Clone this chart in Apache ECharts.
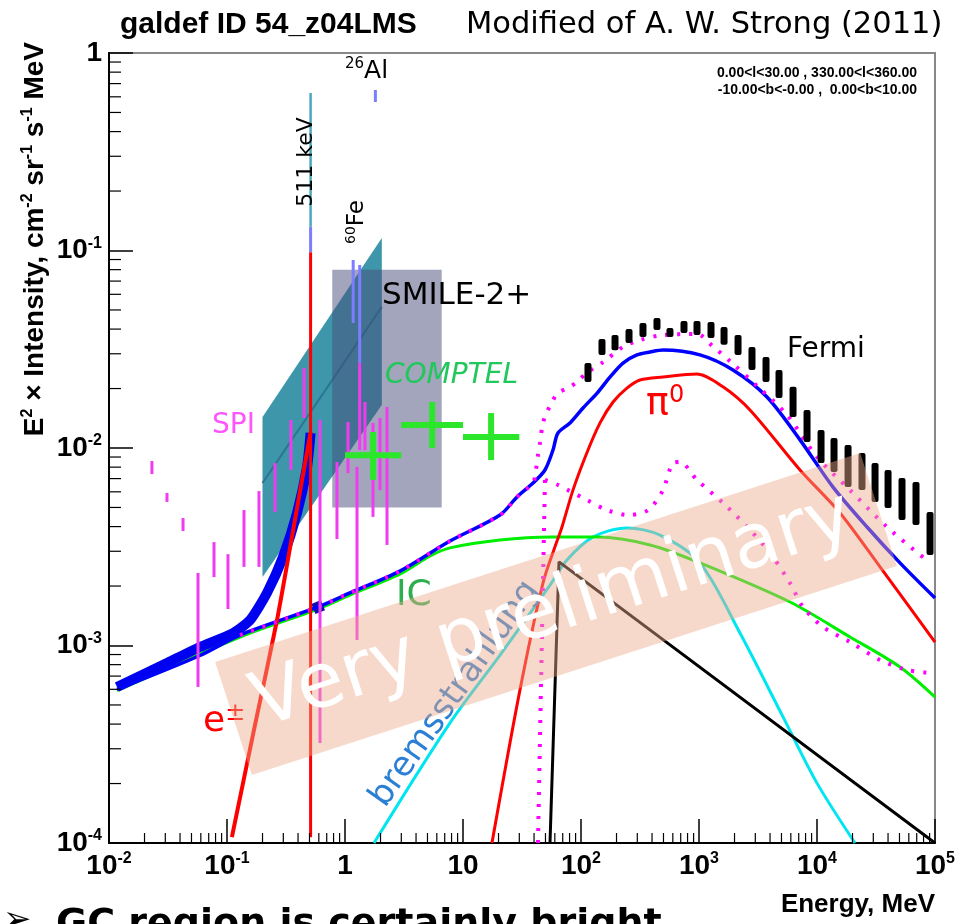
<!DOCTYPE html>
<html>
<head>
<meta charset="utf-8">
<script src="https://cdn.jsdelivr.net/npm/echarts@6/dist/echarts.min.js"></script>
<style>
html, body { margin: 0; padding: 0; background: #fff; }
#chart { width: 975px; height: 924px; }
</style>
</head>
<body>
<div id="chart"></div>
<script>
// ---- axis tick labels (base, exponent) ----
const xTickLabels = [['10', '-2'], ['10', '-1'], ['1', ''], ['10', ''], ['10', '2'], ['10', '3'], ['10', '4'], ['10', '5']];
const xTickExps = [-2, -1, 0, 1, 2, 3, 4, 5];
const yTickLabels = [['10', '-4'], ['10', '-3'], ['10', '-2'], ['10', '-1'], ['1', '']];
const yTickExps = [-4, -3, -2, -1, 0];

// ---- model components: [energy MeV, E^2 x intensity] ----
const psContData = [[0.0117, 6.17e-4], [0.031, 8.15e-4], [0.059, 9.82e-4], [0.1125, 1.156e-3], [0.157, 1.346e-3],
  [0.218, 1.845e-3], [0.2985, 2.81e-3], [0.392, 4.69e-3], [0.477, 8.02e-3], [0.511, 0.01191]];
const psStepData = [[0.54, 1.53e-3], [0.65, 1.60e-3]];
const totalData = [[0.0117, 6.0e-4], [0.059, 8.9e-4], [0.129, 1.13e-3], [0.59, 1.567e-3], [1.10, 1.845e-3],
  [2.92, 2.38e-3], [7.76, 3.38e-3], [20.6, 4.58e-3], [28.7, 5.65e-3], [39.2, 6.65e-3], [49.5, 7.74e-3],
  [57.9, 9.77e-3], [63.8, 0.01191], [80.7, 0.01339], [104, 0.01595], [137, 0.01897], [176, 0.02286],
  [227, 0.02692], [298, 0.02958], [385, 0.03062], [495, 0.03133], [1019, 0.0296], [1941, 0.0248],
  [3767, 0.01811], [7178, 0.01099], [13670, 6.34e-3], [26550, 3.98e-3], [50470, 2.62e-3], [100000, 1.74e-3]];
const piData = [[17.6, 1e-4], [30.4, 5.96e-4], [47.6, 2.07e-3], [60.2, 3.16e-3], [69.0, 3.98e-3], [85.5, 6.12e-3],
  [112, 9.44e-3], [145, 0.0134], [187, 0.0171], [245, 0.0201], [316, 0.0221], [495, 0.0229], [962, 0.0237],
  [1597, 0.0204], [2704, 0.01557], [7178, 7.74e-3], [15670, 4.69e-3], [34200, 2.50e-3], [100000, 1.04e-3]];
const icData = [[0.0117, 5.9e-4], [0.129, 1.104e-3], [0.59, 1.53e-3], [1.10, 1.80e-3], [2.92, 2.30e-3],
  [5.27, 2.84e-3], [7.76, 3.12e-3], [20.6, 3.42e-3], [56.8, 3.54e-3], [137, 3.54e-3], [385, 3.23e-3],
  [1019, 2.62e-3], [5904, 1.66e-3], [19050, 1.104e-3], [50470, 7.78e-4], [100000, 5.48e-4]];
const bremsData = [[1.76, 1e-4], [7.76, 4.06e-4], [20.6, 8.95e-4], [54.6, 2.02e-3], [76.0, 2.71e-3], [126, 3.54e-3],
  [245, 3.94e-3], [467, 3.62e-3], [1019, 2.62e-3], [2225, 1.156e-3], [5152, 4.35e-4], [10000, 2.01e-4], [20990, 1e-4]];
const hardData = [[54.6, 1e-4], [65.1, 2.65e-3], [100000, 1e-4]];
const ePmData = [[0.110, 1.07e-4], [0.1726, 3.95e-4], [0.2655, 1.346e-3], [0.370, 4.07e-3], [0.511, 0.01205]];
const modelUpper = [[0.129, 1.13e-3], [0.59, 1.567e-3], [1.10, 1.845e-3], [2.92, 2.38e-3], [7.76, 3.38e-3],
  [20.6, 4.58e-3], [28.7, 5.65e-3], [39.2, 6.65e-3], [40.7, 7.13e-3], [43.2, 9.22e-3], [44.9, 0.0106],
  [47.6, 0.0134], [51.5, 0.0152], [56.8, 0.0171], [63.8, 0.0190], [77.6, 0.0201], [92.5, 0.0216], [112, 0.0240],
  [154, 0.0272], [227, 0.0325], [316, 0.0352], [495, 0.0373], [962, 0.0378], [1288, 0.0330], [1832, 0.0275],
  [3162, 0.0204], [5571, 0.0147], [10000, 9.0e-3], [19050, 6.12e-3], [39180, 3.98e-3], [90800, 2.62e-3]];
const modelLowerRise = [[43.2, 1e-4], [49.5, 6.89e-3]];
const modelLower = [[49.5, 6.89e-3], [63.8, 6.50e-3], [77.6, 6.12e-3], [112, 5.46e-3], [166, 4.85e-3], [250, 4.58e-3],
  [370, 4.85e-3], [495, 6.12e-3], [603, 8.39e-3], [690, 8.49e-3], [962, 6.89e-3], [1597, 5.27e-3], [2704, 3.85e-3],
  [3999, 2.94e-3], [5904, 2.07e-3], [7609, 1.567e-3], [11240, 1.241e-3], [19050, 1.042e-3], [34200, 8.45e-4],
  [57900, 7.52e-4], [90800, 7.26e-4]];

// ---- gamma-ray lines ----
const line511Red = [[0.511, 0.098], [0.511, 1.07e-4]];
const line511Violet = [[0.511, 0.132], [0.511, 0.098]];
const line511Teal = [[0.511, 0.627], [0.511, 0.132]];
const fe60LineA = [[1.173, 0.0895], [1.173, 0.0430]];
const fe60LineB = [[1.332, 0.0845], [1.332, 0.0269]];
const al26Line = [[1.809, 0.650], [1.809, 0.565]];

// ---- measurements ----
// SPI: [energy, low, high]
const spiData = [[0.0231, 7.38e-3, 8.59e-3], [0.0310, 5.33e-3, 5.92e-3], [0.0424, 3.80e-3, 4.42e-3],
  [0.0568, 6.17e-4, 2.33e-3], [0.0776, 2.22e-3, 3.34e-3], [0.1019, 1.53e-3, 2.90e-3], [0.1393, 2.50e-3, 4.85e-3],
  [0.1866, 2.50e-3, 6.05e-3], [0.2553, 4.74e-3, 8.39e-3], [0.348, 7.74e-3, 0.01387], [0.450, 0.01419, 0.0254],
  [0.614, 3.21e-4, 0.01387], [0.855, 3.46e-3, 8.49e-3], [1.06, 7.46e-3, 0.01355], [1.264, 1.067e-3, 8.02e-3],
  [1.332, 9.77e-3, 0.0269], [1.476, 9.77e-3, 0.0171], [1.726, 4.48e-3, 0.01339], [1.98, 6.12e-3, 0.01419],
  [2.27, 3.23e-3, 0.01614]];
// COMPTEL: [E low, E high, E centre, value, low, high]
const comptelData = [[1, 3, 1.73, 9.2e-3, 6.9e-3, 0.01205], [3, 10, 5.48, 0.01306, 0.0100, 0.0171],
  [10, 30, 17.3, 0.01137, 8.69e-3, 0.01503]];
// Fermi: [energy, low, high]
const fermiData = [[114.6, 0.0216, 0.0269], [150.6, 0.0296, 0.0356], [194.2, 0.0313, 0.0373], [255.2, 0.0340, 0.0401],
  [335.1, 0.0365, 0.0430], [440.4, 0.0396, 0.0455], [567.5, 0.0365, 0.0405], [746, 0.0382, 0.0440],
  [961.6, 0.0373, 0.0440], [1264, 0.0361, 0.0435], [1630, 0.0333, 0.0410], [2142, 0.0296, 0.0373],
  [2812, 0.0248, 0.0325], [3698, 0.0216, 0.0289], [4766, 0.0179, 0.0248], [6266, 0.01435, 0.0204],
  [8232, 0.01072, 0.01557], [10820, 8.39e-3, 0.01233], [13940, 7.55e-3, 0.01124], [18330, 6.34e-3, 0.01035],
  [24060, 6.12e-3, 9.44e-3], [31040, 5.33e-3, 8.39e-3], [40000, 4.97e-3, 7.74e-3], [52530, 4.32e-3, 7.05e-3],
  [69030, 4.07e-3, 6.73e-3], [90770, 2.87e-3, 4.74e-3]];

// ---- sensitivity regions ----
const spiBandCorners = [[0.2, 2.22e-3], [0.2, 0.01435], [2.05, 0.1157], [2.05, 0.01651]];
const spiBandMid = [[0.2, 6.65e-3], [2.05, 0.0518]];
const smileBox = [[0.78, 5.0e-3], [6.6, 0.08]];

// minor tick positions (2..9 within each decade)
const xMinor = [];
for (let d = -2; d < 5; d++) for (let k = 2; k <= 9; k++) xMinor.push(k * Math.pow(10, d));
const yMinor = [];
for (let d = -4; d < 0; d++) for (let k = 2; k <= 9; k++) yMinor.push(k * Math.pow(10, d));

const FONT = 'Liberation Sans, Arial, sans-serif';
const HAND = 'DejaVu Sans, sans-serif';

const labelRich = {
  b: { fontFamily: FONT, fontWeight: 'bold', fontSize: 28, lineHeight: 30, color: '#000' },
  s: { fontFamily: FONT, fontWeight: 'bold', fontSize: 16, lineHeight: 16, verticalAlign: 'top', color: '#000' }
};
function tickText(labels, exps, v) {
  const e = Math.round(Math.log10(v));
  const i = exps.indexOf(e);
  if (i < 0) return '';
  const l = labels[i];
  return l[1] ? '{b|' + l[0] + '}{s|' + l[1] + '}' : '{b|' + l[0] + '}';
}

function curve(name, data, color, width, extra) {
  return Object.assign({
    name: name, type: 'line', data: data, symbol: 'none', showSymbol: false, smooth: 0.3,
    silent: true, z: 3, clip: true,
    lineStyle: { color: color, width: width, cap: 'butt' }
  }, extra || {});
}

function bars(name, data, color, width, z) {
  return {
    name: name, type: 'custom', data: data, z: z, silent: true,
    encode: { x: 0, y: [1, 2] },
    renderItem: function (params, api) {
      const top = api.coord([api.value(0), api.value(2)]);
      const bot = api.coord([api.value(0), api.value(1)]);
      return {
        type: 'rect',
        shape: { x: top[0] - width / 2, y: top[1], width: width, height: bot[1] - top[1], r: width > 4 ? 2 : 0 },
        style: { fill: color }
      };
    }
  };
}

const dotted = function (z) {
  return { z: z, lineStyle: { color: '#ff00ff', width: 4, type: [3, 9], cap: 'butt' } };
};

const series = [
  // sensitivity regions
  {
    type: 'custom', name: 'SPI band', data: spiBandCorners, z: 1, silent: true,
    renderItem: function (params, api) {
      if (params.dataIndex !== 0) return null;
      const a = api.coord(spiBandMid[0]), b = api.coord(spiBandMid[1]);
      return {
        type: 'group', children: [
          { type: 'polygon', shape: { points: spiBandCorners.map(function (p) { return api.coord(p); }) }, style: { fill: '#3e96ab' } },
          { type: 'line', shape: { x1: a[0], y1: a[1], x2: b[0], y2: b[1] }, style: { stroke: '#2b7590', lineWidth: 2 } }
        ]
      };
    }
  },
  {
    type: 'custom', name: 'SMILE-2+', data: smileBox, z: 1.5, silent: true,
    renderItem: function (params, api) {
      if (params.dataIndex !== 0) return null;
      const p0 = api.coord(smileBox[0]), p1 = api.coord(smileBox[1]);
      return {
        type: 'rect',
        shape: { x: p0[0], y: p1[1], width: p1[0] - p0[0], height: p0[1] - p1[1] },
        style: { fill: 'rgba(70,75,120,0.5)' }
      };
    }
  },
  // axis minor ticks
  {
    type: 'custom', name: 'x minor', data: xMinor.map(function (v) { return [v, 1e-4]; }), z: 6, silent: true,
    renderItem: function (params, api) {
      const p = api.coord([api.value(0), 1e-4]);
      return { type: 'line', shape: { x1: p[0], y1: p[1], x2: p[0], y2: p[1] - 10 }, style: { stroke: '#000', lineWidth: 1.2 } };
    }
  },
  {
    type: 'custom', name: 'y minor', data: yMinor.map(function (v) { return [0.01, v]; }), z: 6, silent: true,
    renderItem: function (params, api) {
      const p = api.coord([0.01, api.value(1)]);
      return { type: 'line', shape: { x1: p[0], y1: p[1], x2: p[0] + 12, y2: p[1] }, style: { stroke: '#000', lineWidth: 1.2 } };
    }
  },
  // model curves
  curve('bremsstrahlung', bremsData, '#00e6f0', 3),
  curve('hard', hardData, '#000', 3, { smooth: false }),
  curve('IC', icData, '#00ee00', 3),
  curve('total', totalData, '#0000ff', 3.5, { z: 3.2 }),
  curve('positronium', psContData, '#0000f0', 10, { z: 3.1, smooth: 0.2 }),
  curve('positronium step', psStepData, '#1010b0', 11, { z: 3.15, smooth: false }),
  curve('pi0', piData, '#ff0000', 3, { z: 3.3 }),
  curve('e+-', ePmData, '#ff0000', 4, { z: 3.4, smooth: 0.2 }),
  curve('model', modelUpper, '#ff00ff', 4, dotted(3.5)),
  curve('model rise', modelLowerRise, '#ff00ff', 4, Object.assign({ smooth: false }, dotted(3.5))),
  curve('model low', modelLower, '#ff00ff', 4, dotted(3.5)),
  // lines
  curve('511 red', line511Red, '#ff0000', 3, { smooth: false, z: 3.6 }),
  curve('511 violet', line511Violet, '#7d7dff', 3, { smooth: false, z: 3.6 }),
  curve('511 teal', line511Teal, '#4aa8bc', 2.5, { smooth: false, z: 3.6 }),
  curve('60Fe a', fe60LineA, '#7d7dff', 3, { smooth: false, z: 3.6 }),
  curve('60Fe b', fe60LineB, '#7d7dff', 3, { smooth: false, z: 3.6 }),
  curve('26Al', al26Line, '#7d7dff', 3, { smooth: false, z: 3.6 }),
  // data points
  bars('SPI', spiData, '#f03cf0', 3, 4),
  {
    type: 'custom', name: 'COMPTEL', data: comptelData, z: 4.5, silent: true,
    renderItem: function (params, api) {
      const h0 = api.coord([api.value(0), api.value(3)]);
      const h1 = api.coord([api.value(1), api.value(3)]);
      const v0 = api.coord([api.value(2), api.value(5)]);
      const v1 = api.coord([api.value(2), api.value(4)]);
      const st = { stroke: '#2be62b', lineWidth: 6 };
      return {
        type: 'group', children: [
          { type: 'line', shape: { x1: h0[0], y1: h0[1], x2: h1[0], y2: h1[1] }, style: st },
          { type: 'line', shape: { x1: v0[0], y1: v0[1], x2: v1[0], y2: v1[1] }, style: st }
        ]
      };
    }
  },
  bars('Fermi', fermiData, '#000', 7, 4.6)
];

function txt(x, y, text, font, fill, extra) {
  return Object.assign({
    type: 'text', x: x, y: y, z: 10, silent: true,
    style: Object.assign({ text: text, fill: fill || '#000', align: 'left', verticalAlign: 'middle' }, font)
  }, extra || {});
}

const graphics = [
  txt(120, 25, 'galdef ID 54_z04LMS', { fontFamily: FONT, fontWeight: 'bold', fontSize: 30 }),
  txt(466, 25, 'Modified of A. W. Strong (2011)', { fontFamily: HAND, fontSize: 30.5 }),
  txt(917, 73, '0.00<l<30.00 , 330.00<l<360.00', { fontFamily: FONT, fontWeight: 'bold', fontSize: 14, align: 'right' }),
  txt(917, 90, '-10.00<b<-0.00 ,  0.00<b<10.00', { fontFamily: FONT, fontWeight: 'bold', fontSize: 14, align: 'right' }),
  txt(935, 905, 'Energy, MeV', { fontFamily: FONT, fontWeight: 'bold', fontSize: 26, align: 'right' }),
  // vertical axis title, ending at the top of the axis
  {
    type: 'text', x: 35, y: 42, rotation: Math.PI / 2, z: 10, silent: true,
    style: {
      text: '{t|E}{u|2}{t| × Intensity, cm}{u|-2}{t| sr}{u|-1}{t| s}{u|-1}{t| MeV}',
      align: 'right', verticalAlign: 'middle',
      rich: {
        t: { fontFamily: FONT, fontWeight: 'bold', fontSize: 28, lineHeight: 30, fill: '#000' },
        u: { fontFamily: FONT, fontWeight: 'bold', fontSize: 16, lineHeight: 16, verticalAlign: 'top', fill: '#000' }
      }
    }
  },
  txt(3, 921, '➢', { fontFamily: HAND, fontSize: 34 }),
  txt(56, 906, 'GC region is certainly bright', { fontFamily: HAND, fontWeight: 'bold', fontSize: 38, verticalAlign: 'top' }),
  // line and component annotations
  {
    type: 'text', x: 345, y: 71, z: 10, silent: true,
    style: {
      text: '{s|26}{n|Al}', align: 'left', verticalAlign: 'middle',
      rich: {
        s: { fontFamily: HAND, fontSize: 15, lineHeight: 15, verticalAlign: 'top', fill: '#000' },
        n: { fontFamily: HAND, fontSize: 25, lineHeight: 28, fill: '#000' }
      }
    }
  },
  txt(306, 162, '511 keV', { fontFamily: HAND, fontSize: 22, align: 'center' }, '#000', { rotation: Math.PI / 2 }),
  {
    type: 'text', x: 357, y: 222, rotation: Math.PI / 2, z: 10, silent: true,
    style: {
      text: '{s|60}{n|Fe}', align: 'center', verticalAlign: 'middle',
      rich: {
        s: { fontFamily: HAND, fontSize: 14, lineHeight: 14, verticalAlign: 'top', fill: '#000' },
        n: { fontFamily: HAND, fontSize: 23, lineHeight: 26, fill: '#000' }
      }
    }
  },
  txt(212, 426, 'SPI', { fontFamily: HAND, fontSize: 28 }, '#ff55ff'),
  txt(382, 296, 'SMILE-2+', { fontFamily: HAND, fontSize: 31 }, '#000'),
  txt(385, 376, 'COMPTEL', { fontFamily: HAND, fontSize: 28, fontStyle: 'italic' }, '#1ec85a'),
  txt(787, 350, 'Fermi', { fontFamily: HAND, fontSize: 28 }, '#000'),
  {
    type: 'text', x: 646, y: 404, z: 10, silent: true,
    style: {
      text: '{p|π}{s|0}', align: 'left', verticalAlign: 'middle',
      rich: {
        p: { fontFamily: HAND, fontSize: 38, lineHeight: 40, fill: '#ff0000' },
        s: { fontFamily: HAND, fontSize: 24, lineHeight: 24, verticalAlign: 'top', fill: '#ff0000' }
      }
    }
  },
  txt(396, 596, 'IC', { fontFamily: HAND, fontSize: 36 }, '#2fae4f'),
  {
    type: 'text', x: 203, y: 722, z: 10, silent: true,
    style: {
      text: '{e|e}{s|±}', align: 'left', verticalAlign: 'middle',
      rich: {
        e: { fontFamily: HAND, fontSize: 36, lineHeight: 40, fill: '#ff0000' },
        s: { fontFamily: HAND, fontSize: 24, lineHeight: 26, verticalAlign: 'top', fill: '#ff0000' }
      }
    }
  },
  txt(455, 694, 'bremsstrahlung', { fontFamily: HAND, fontSize: 34, align: 'center' }, '#2b7fd4', { rotation: 0.956 }),
  // watermark band
  {
    type: 'rect', x: 556, y: 614, rotation: 0.3133, z: 50, silent: true,
    shape: { x: -339, y: -59.5, width: 678, height: 119 },
    style: { fill: 'rgba(238,170,140,0.45)' }
  },
  txt(553, 612, 'Very preliminary', { fontFamily: HAND, fontSize: 76, align: 'center' }, '#ffffff', { rotation: 0.3133, z: 51 })
];

const option = {
  animation: false,
  backgroundColor: '#ffffff',
  grid: { left: 109, right: 40, top: 53, bottom: 81, show: true, borderColor: '#888', borderWidth: 2, containLabel: false },
  xAxis: {
    type: 'log', logBase: 10, min: 0.01, max: 1e5, splitNumber: 7,
    axisLine: { show: true, onZero: false, lineStyle: { color: '#000', width: 2 } },
    axisTick: { show: true, inside: true, length: 24, lineStyle: { color: '#000', width: 1.5 } },
    splitLine: { show: false },
    axisLabel: {
      margin: 8, hideOverlap: false, showMinLabel: true, showMaxLabel: true,
      formatter: function (v) { return tickText(xTickLabels, xTickExps, v); },
      rich: labelRich
    }
  },
  yAxis: {
    type: 'log', logBase: 10, min: 1e-4, max: 1, splitNumber: 4,
    axisLine: { show: true, onZero: false, lineStyle: { color: '#000', width: 2 } },
    axisTick: { show: true, inside: true, length: 24, lineStyle: { color: '#000', width: 1.5 } },
    splitLine: { show: false },
    axisLabel: {
      margin: 7, hideOverlap: false, showMinLabel: true, showMaxLabel: true,
      formatter: function (v) { return tickText(yTickLabels, yTickExps, v); },
      rich: labelRich
    }
  },
  series: series,
  graphic: { elements: graphics }
};

const chart = echarts.init(document.getElementById('chart'), null, { renderer: 'canvas' });
chart.setOption(option);
</script>
</body>
</html>
